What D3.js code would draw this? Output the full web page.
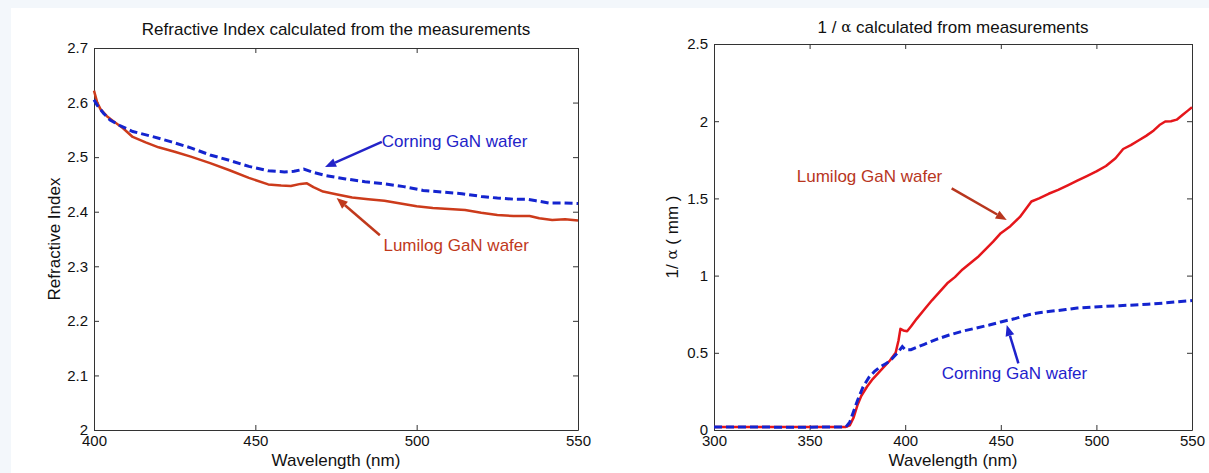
<!DOCTYPE html>
<html>
<head>
<meta charset="utf-8">
<script src="https://cdn.jsdelivr.net/npm/d3@7"></script>
<style>
	body { margin: 0; background: #f3f7fb; }
	text { font-family: "Liberation Sans", Arial, sans-serif; }
</style>
</head>
<body>
<svg id="chart" width="1209" height="473"></svg>
<script>
// refractive index (wavelength nm, n)
const indexLumilog = [
	[400, 2.622], [401, 2.6], [402, 2.588], [404, 2.575], [406, 2.566], [409, 2.553],
	[412, 2.537], [416, 2.527], [420, 2.518], [425, 2.51], [430, 2.501], [436, 2.489],
	[442, 2.476], [448, 2.462], [454, 2.45], [458, 2.448], [461, 2.447], [464, 2.451],
	[466, 2.452], [468, 2.445], [471, 2.437], [475, 2.432], [480, 2.426], [485, 2.423],
	[490, 2.42], [495, 2.415], [500, 2.41], [505, 2.407], [510, 2.405], [515, 2.403],
	[520, 2.398], [525, 2.394], [530, 2.392], [535, 2.392], [538, 2.388], [542, 2.385],
	[546, 2.386], [550, 2.384],
];
const indexCorning = [
	[400, 2.605], [401, 2.595], [403, 2.58], [405, 2.568], [408, 2.558], [412, 2.547],
	[418, 2.538], [424, 2.528], [430, 2.517], [436, 2.504], [442, 2.494], [448, 2.483],
	[454, 2.475], [459, 2.473], [462, 2.474], [465, 2.478], [468, 2.472], [472, 2.466],
	[478, 2.46], [484, 2.455], [490, 2.451], [496, 2.446], [502, 2.439], [508, 2.436],
	[514, 2.433], [520, 2.428], [525, 2.425], [530, 2.423], [534, 2.423], [537, 2.42],
	[541, 2.416], [545, 2.416], [550, 2.415],
];

// 1/alpha in mm, right panel
const alphaLumilog = [
	[300, 0.02], [369, 0.02], [371, 0.03], [373, 0.08], [375, 0.16], [377, 0.22],
	[380, 0.28], [383, 0.33], [386, 0.37], [389, 0.41], [392, 0.45], [395, 0.5],
	[396.5, 0.58], [397.5, 0.655], [399, 0.645], [401, 0.64], [403, 0.67], [406, 0.72],
	[410, 0.78], [414, 0.84], [418, 0.895], [422, 0.95], [426, 0.99], [430, 1.04],
	[434, 1.08], [438, 1.12], [442, 1.17], [446, 1.22], [450, 1.275], [455, 1.32],
	[460, 1.38], [463, 1.43], [466, 1.48], [470, 1.5], [475, 1.53], [480, 1.555],
	[485, 1.585], [490, 1.615], [495, 1.645], [500, 1.675], [505, 1.71], [510, 1.76],
	[514, 1.82], [518, 1.845], [522, 1.875], [526, 1.905], [530, 1.94], [533, 1.975],
	[536, 1.998], [539, 2.0], [542, 2.01], [545, 2.04], [548, 2.07], [550, 2.09],
];
const alphaCorning = [
	[300, 0.02], [345, 0.018], [369, 0.02], [371, 0.05], [373, 0.12], [375, 0.19],
	[378, 0.28], [381, 0.34], [384, 0.38], [387, 0.41], [390, 0.43], [393, 0.46],
	[396, 0.5], [398.5, 0.54], [400, 0.52], [403, 0.52], [410, 0.555], [417, 0.59],
	[423, 0.615], [430, 0.64], [437, 0.66], [444, 0.68], [450, 0.7], [457, 0.72],
	[464, 0.745], [470, 0.76], [477, 0.77], [484, 0.78], [490, 0.79], [497, 0.795],
	[504, 0.8], [512, 0.805], [520, 0.81], [527, 0.815], [535, 0.822], [542, 0.83],
	[550, 0.838],
];

const indexTicksX = [400, 450, 500, 550];
const indexTicksY = [2, 2.1, 2.2, 2.3, 2.4, 2.5, 2.6, 2.7];
const alphaTicksX = [300, 350, 400, 450, 500, 550];
const alphaTicksY = [0, 0.5, 1, 1.5, 2, 2.5];

// annotations: text anchor point and arrow tail/head in data units
const indexNotes = [
	{ label: "Corning GaN wafer", at: [489.2, 2.528], tail: [489.2, 2.528], head: [471.6, 2.482], color: "#2323c8" },
	{ label: "Lumilog GaN wafer", at: [489.7, 2.339], tail: [488.6, 2.357], head: [475.2, 2.425], color: "#c0391c" },
];
const alphaNotes = [
	{ label: "Lumilog GaN wafer", at: [343.3, 1.64], tail: [424.3, 1.565], head: [453.1, 1.36], color: "#b8361e" },
	{ label: "Corning GaN wafer", at: [419.1, 0.367], tail: [459.2, 0.432], head: [453.1, 0.68], color: "#1f22cc" },
];

const svg = d3.select("#chart");

svg.append("rect").attr("width", 1209).attr("height", 473).attr("fill", "#f3f7fb");
svg.append("rect").attr("x", 11).attr("y", 8).attr("width", 1198).attr("height", 465).attr("fill", "white");

function drawArrow(g, x1, y1, x2, y2, color) {
	const len = 11; // head length
	const half = 4.5;
	const dx = x2 - x1;
	const dy = y2 - y1;
	const d = Math.sqrt(dx * dx + dy * dy);
	const ux = dx / d;
	const uy = dy / d;
	const bx = x2 - ux * len;
	const by = y2 - uy * len;

	g.append("line")
		.attr("x1", x1)
		.attr("y1", y1)
		.attr("x2", bx)
		.attr("y2", by)
		.attr("stroke", color)
		.attr("stroke-width", 2.5);

	g.append("path")
		.attr("d", `M${x2},${y2}L${bx - uy * half},${by + ux * half}L${bx + uy * half},${by - ux * half}Z`)
		.attr("fill", color);
}

function drawPanel(opts) {
	const { left, top, right, bottom } = opts.box;
	const x = d3.scaleLinear().domain(opts.xDomain).range([left, right]);
	const y = d3.scaleLinear().domain(opts.yDomain).range([bottom, top]);
	const g = svg.append("g");

	const axes = [
		{ axis: d3.axisBottom(x).tickValues(opts.xTicks).tickFormat((d) => d).tickPadding(5), pos: `translate(0,${bottom})` },
		{ axis: d3.axisLeft(y).tickValues(opts.yTicks).tickFormat((d) => d).tickPadding(6), pos: `translate(${left},0)` },
		{ axis: d3.axisTop(x).tickValues(opts.xTicks).tickFormat(""), pos: `translate(0,${top})` },
		{ axis: d3.axisRight(y).tickValues(opts.yTicks).tickFormat(""), pos: `translate(${right},0)` },
	];

	axes.forEach((a) => {
		const ag = g
			.append("g")
			.attr("transform", a.pos)
			.call(a.axis.tickSizeInner(-5).tickSizeOuter(0));
		ag.select(".domain").attr("stroke", "#333");
		ag.selectAll(".tick line").attr("stroke", "#333");
		ag.selectAll(".tick text")
			.attr("font-size", "15px")
			.attr("font-family", "Liberation Sans, Arial, sans-serif")
			.attr("fill", "#111");
	});

	const line = d3
		.line()
		.x((d) => x(d[0]))
		.y((d) => y(d[1]));

	g.append("path")
		.attr("d", line(opts.lumilog))
		.attr("fill", "none")
		.attr("stroke", opts.lumilogColor)
		.attr("stroke-width", 2.5)
		.attr("stroke-linejoin", "round");

	g.append("path")
		.attr("d", line(opts.corning))
		.attr("fill", "none")
		.attr("stroke", "#1424cf")
		.attr("stroke-width", 3)
		.attr("stroke-dasharray", "8,4");

	// titles and axis labels
	const title = g
		.append("text")
		.attr("x", (left + right) / 2)
		.attr("y", opts.titleY)
		.attr("text-anchor", "middle")
		.attr("dominant-baseline", "central")
		.attr("font-size", "17px")
		.attr("fill", "#111");
	opts.title.forEach((part) => {
		const t = title.append("tspan").text(part.text);
		if (part.greek) t.attr("font-family", "DejaVu Serif, serif").attr("font-size", "15px");
	});

	g.append("text")
		.attr("x", (left + right) / 2)
		.attr("y", 460)
		.attr("text-anchor", "middle")
		.attr("dominant-baseline", "central")
		.attr("font-size", "17px")
		.attr("fill", "#111")
		.text("Wavelength (nm)");

	const ylab = g
		.append("text")
		.attr("transform", `translate(${opts.yLabelX},${(top + bottom) / 2}) rotate(-90)`)
		.attr("text-anchor", "middle")
		.attr("dominant-baseline", "central")
		.attr("font-size", "17px")
		.attr("fill", "#111");
	opts.yLabel.forEach((part) => {
		const t = ylab.append("tspan").text(part.text);
		if (part.greek) t.attr("font-family", "DejaVu Serif, serif").attr("font-size", "15px");
	});

	// annotations with arrows
	opts.notes.forEach((n) => {
		drawArrow(g, x(n.tail[0]), y(n.tail[1]), x(n.head[0]), y(n.head[1]), n.color);
		g.append("text")
			.attr("x", x(n.at[0]))
			.attr("y", y(n.at[1]))
			.attr("dominant-baseline", "central")
			.attr("font-size", "17px")
			.attr("fill", n.color)
			.text(n.label);
	});
}

drawPanel({
	box: { left: 94, top: 48, right: 578, bottom: 430 },
	xDomain: [400, 550],
	yDomain: [2, 2.7],
	xTicks: indexTicksX,
	yTicks: indexTicksY,
	lumilog: indexLumilog,
	corning: indexCorning,
	lumilogColor: "#cc3b1b",
	title: [{ text: "Refractive Index calculated from the measurements" }],
	titleY: 29,
	yLabel: [{ text: "Refractive Index" }],
	yLabelX: 54,
	notes: indexNotes,
});

drawPanel({
	box: { left: 714, top: 44, right: 1192, bottom: 430 },
	xDomain: [300, 550],
	yDomain: [0, 2.5],
	xTicks: alphaTicksX,
	yTicks: alphaTicksY,
	lumilog: alphaLumilog,
	corning: alphaCorning,
	lumilogColor: "#e5161b",
	title: [{ text: "1 / " }, { text: "α", greek: true }, { text: " calculated from measurements" }],
	titleY: 27,
	yLabel: [{ text: "1/ " }, { text: "α", greek: true }, { text: " ( mm )" }],
	yLabelX: 672,
	notes: alphaNotes,
});
</script>
</body>
</html>
